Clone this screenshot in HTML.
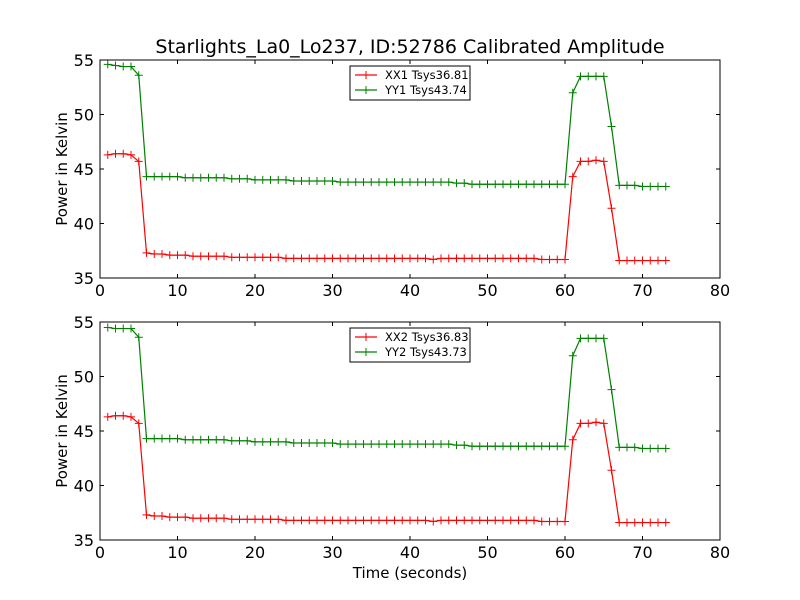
<!DOCTYPE html>
<html><head><meta charset="utf-8"><style>
body{margin:0;background:#fff;}
svg{display:block;font-family:"DejaVu Sans","Liberation Sans",sans-serif;}
</style></head><body>
<svg id="chart" width="800" height="600" viewBox="0 0 800 600">
<rect width="800" height="600" fill="#fff"/>
<text x="410" y="53" font-size="19" text-anchor="middle">Starlights_La0_Lo237, ID:52786 Calibrated Amplitude</text>
<text x="410" y="578" font-size="15" text-anchor="middle">Time (seconds)</text>
</svg>
<script>
const xTicks=[0,10,20,30,40,50,60,70,80];
const yTicks=[35,40,45,50,55];
const times=[];for(let i=1;i<=73;i++)times.push(i);
const xx1=[46.3,46.4,46.4,46.3,45.7,37.3,37.2,37.2,37.1,37.1,37.1,37.0,37.0,37.0,37.0,37.0,36.9,36.9,36.9,36.9,36.9,36.9,36.9,36.8,36.8,36.8,36.8,36.8,36.8,36.8,36.8,36.8,36.8,36.8,36.8,36.8,36.8,36.8,36.8,36.8,36.8,36.8,36.7,36.8,36.8,36.8,36.8,36.8,36.8,36.8,36.8,36.8,36.8,36.8,36.8,36.8,36.7,36.7,36.7,36.7,44.3,45.7,45.7,45.8,45.7,41.4,36.6,36.6,36.6,36.6,36.6,36.6,36.6];
const yy1=[54.6,54.5,54.4,54.4,53.6,44.3,44.3,44.3,44.3,44.3,44.2,44.2,44.2,44.2,44.2,44.2,44.1,44.1,44.1,44.0,44.0,44.0,44.0,44.0,43.9,43.9,43.9,43.9,43.9,43.9,43.8,43.8,43.8,43.8,43.8,43.8,43.8,43.8,43.8,43.8,43.8,43.8,43.8,43.8,43.8,43.7,43.7,43.6,43.6,43.6,43.6,43.6,43.6,43.6,43.6,43.6,43.6,43.6,43.6,43.6,52.0,53.5,53.5,53.5,53.5,48.9,43.5,43.5,43.5,43.4,43.4,43.4,43.4];
const xx2=[46.3,46.4,46.4,46.3,45.7,37.3,37.2,37.2,37.1,37.1,37.1,37.0,37.0,37.0,37.0,37.0,36.9,36.9,36.9,36.9,36.9,36.9,36.9,36.8,36.8,36.8,36.8,36.8,36.8,36.8,36.8,36.8,36.8,36.8,36.8,36.8,36.8,36.8,36.8,36.8,36.8,36.8,36.7,36.8,36.8,36.8,36.8,36.8,36.8,36.8,36.8,36.8,36.8,36.8,36.8,36.8,36.7,36.7,36.7,36.7,44.2,45.7,45.7,45.8,45.7,41.4,36.6,36.6,36.6,36.6,36.6,36.6,36.6];
const yy2=[54.5,54.4,54.4,54.4,53.6,44.3,44.3,44.3,44.3,44.3,44.2,44.2,44.2,44.2,44.2,44.2,44.1,44.1,44.1,44.0,44.0,44.0,44.0,44.0,43.9,43.9,43.9,43.9,43.9,43.9,43.8,43.8,43.8,43.8,43.8,43.8,43.8,43.8,43.8,43.8,43.8,43.8,43.8,43.8,43.8,43.7,43.7,43.6,43.6,43.6,43.6,43.6,43.6,43.6,43.6,43.6,43.6,43.6,43.6,43.6,51.9,53.5,53.5,53.5,53.5,48.8,43.5,43.5,43.5,43.4,43.4,43.4,43.4];
const legend1=["XX1 Tsys36.81","YY1 Tsys43.74"];
const legend2=["XX2 Tsys36.83","YY2 Tsys43.73"];
const NS='http://www.w3.org/2000/svg';
const svg=document.getElementById('chart');
function mk(tag,attrs,parent){const e=document.createElementNS(NS,tag);for(const k in attrs)e.setAttribute(k,attrs[k]);(parent||svg).appendChild(e);return e;}
function panel(top,series,colors,labels,id){
  const L=100,R=720,T=top,B=top+218;
  const g=mk('g',{});
  
  
  const xs=v=>L+(v-0)/(80-0)*(R-L);
  const ys=v=>B-(v-35)/(55-35)*(B-T);
  series.forEach((s,si)=>{
    const pts=times.map((t,i)=>xs(t).toFixed(2)+','+ys(s[i]).toFixed(2)).join(' ');
    const pl=mk('polyline',{points:pts,fill:'none',stroke:colors[si],'stroke-width':1.2},g);
    
    
    let d='';
    times.forEach((t,i)=>{const x=xs(t),y=ys(s[i]);d+=`M${x-4},${y}H${x+4}M${x},${y-4}V${y+4}`;});
    const m=mk('path',{d:d,stroke:colors[si],'stroke-width':1},g);
    
    
  });
  const fr=mk('rect',{x:L,y:T,width:R-L,height:B-T,fill:'none',stroke:'#000','stroke-width':1},g);
  
  
  xTicks.forEach(v=>{const x=xs(v);
    mk('line',{x1:x,x2:x,y1:B,y2:B-4,stroke:'#000'},g);
    mk('line',{x1:x,x2:x,y1:T,y2:T+4,stroke:'#000'},g);
    const t=mk('text',{x:x,y:B+18,'font-size':16,'text-anchor':'middle'},g);t.textContent=v;
    
    
  });
  yTicks.forEach(v=>{const y=ys(v);
    mk('line',{x1:L,x2:L+4,y1:y,y2:y,stroke:'#000'},g);
    mk('line',{x1:R,x2:R-4,y1:y,y2:y,stroke:'#000'},g);
    const t=mk('text',{x:L-6,y:y+6,'font-size':16,'text-anchor':'end'},g);t.textContent=v;
    
    
  });
  const yt=mk('text',{x:0,y:0,'font-size':15,'text-anchor':'middle',transform:`translate(67,${(T+B)/2}) rotate(-90)`},g);
  yt.textContent='Power in Kelvin';
  
  
  const lg=mk('g',{},g);
  
  
  mk('rect',{x:350,y:T+6,width:120,height:34,fill:'#fff',stroke:'#000','stroke-width':1},lg);
  labels.forEach((lab,i)=>{const y=T+15+i*15;
    mk('line',{x1:355,x2:377,y1:y,y2:y,stroke:colors[i],'stroke-width':1.2},lg);
    mk('path',{d:`M362,${y}H370M366,${y-4}V${y+4}`,stroke:colors[i]},lg);
    const t=mk('text',{x:385,y:y+4,'font-size':11.5},lg);t.textContent=lab;
    
    
  });
}
panel(60,[xx1,yy1],['#ff0000','#008000'],legend1,'top-panel');
panel(322,[xx2,yy2],['#ff0000','#008000'],legend2,'bottom-panel');
</script>
</body></html>
